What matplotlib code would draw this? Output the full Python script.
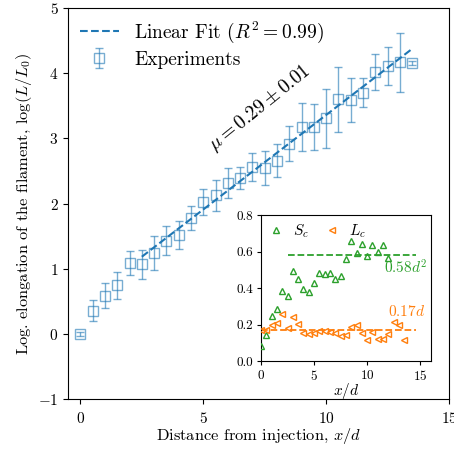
import numpy as np
import matplotlib
matplotlib.use("Agg")
import matplotlib.pyplot as plt

plt.rcParams['font.family'] = ['cmr10', 'DejaVu Serif']
plt.rcParams['mathtext.fontset'] = 'cm'
plt.rcParams['axes.formatter.use_mathtext'] = True
plt.rcParams['axes.unicode_minus'] = True

# main data
x_exp = [0.0, 0.5, 1.0, 1.5, 2.0, 2.5, 3.0, 3.5, 4.0, 4.5, 5.0, 5.5, 6.0, 6.5,
         7.0, 7.5, 8.0, 8.5, 9.0, 9.5, 10.0, 10.5, 11.0, 11.5, 12.0, 12.5, 13.0, 13.5]
y_exp = [0.0, 0.36, 0.59, 0.745, 1.09, 1.07, 1.24, 1.43, 1.52, 1.78, 2.02, 2.13, 2.32, 2.39,
         2.56, 2.54, 2.66, 2.92, 3.17, 3.18, 3.31, 3.60, 3.59, 3.70, 4.02, 4.11, 4.17, 4.16]
err_exp = [0.03, 0.16, 0.19, 0.21, 0.19, 0.22, 0.26, 0.22, 0.22, 0.19, 0.20, 0.24, 0.23, 0.17,
           0.22, 0.26, 0.25, 0.27, 0.37, 0.35, 0.45, 0.50, 0.34, 0.22, 0.28, 0.29, 0.45, 0.03]
fit_slope = 0.29
fit_intercept = 0.46
fit_x = [2.5, 13.5]

# inset data
x_sc = [0.0, 0.5, 1.0, 1.5, 2.0, 2.5, 3.0, 3.5, 4.0, 4.5, 5.0, 5.5, 6.0, 6.5,
        7.0, 7.5, 8.0, 8.5, 9.0, 9.5, 10.0, 10.5, 11.0, 11.5, 12.0]
s_c = [0.082, 0.143, 0.245, 0.286, 0.386, 0.357, 0.496, 0.447, 0.397, 0.377, 0.429, 0.485,
       0.476, 0.482, 0.447, 0.467, 0.56, 0.657, 0.592, 0.641, 0.577, 0.636, 0.595, 0.636, 0.566]
x_lc = x_exp
l_c = [0.17, 0.17, 0.20, 0.21, 0.26, 0.18, 0.24, 0.205, 0.155, 0.147, 0.155, 0.165, 0.163, 0.16,
       0.155, 0.135, 0.145, 0.187, 0.196, 0.154, 0.117, 0.159, 0.123, 0.123, 0.15, 0.214, 0.20, 0.117]
sc_mean = 0.58
lc_mean = 0.17

blue = '#1f77b4'
green = '#2ca02c'
orange = '#ff7f0e'

fig = plt.figure(figsize=(4.54, 4.49), dpi=100)
ax = fig.add_axes([0.150, 0.111, 0.839, 0.871])

fx = np.array(fit_x)
ax.plot(fx, fit_slope * fx + fit_intercept, '--', color=blue, lw=1.5,
        label=r'Linear Fit ($R^2 = 0.99$)', zorder=3)
ax.errorbar(x_exp, y_exp, yerr=err_exp, fmt='s', mfc='none', mec=blue, ms=7, mew=1.0,
            ecolor=blue, elinewidth=1.0, capsize=3, alpha=0.6, label='Experiments', zorder=2)
ax.text(7.3, 3.47, r'$\mu = 0.29 \pm 0.01$', rotation=39, fontsize=14,
        ha='center', va='center')
ax.set_xlim(-0.5, 15)
ax.set_ylim(-1, 5)
ax.set_xticks([0, 5, 10, 15])
ax.set_yticks([-1, 0, 1, 2, 3, 4, 5])
ax.tick_params(labelsize=11)
ax.tick_params(axis='x', pad=5)
ax.set_xlabel(r'Distance from injection, $x/d$', fontsize=11.8, labelpad=0)
ax.set_ylabel(r'Log. elongation of the filament, $\log(L/L_0)$', fontsize=11.8, labelpad=3)
ax.legend(loc='upper left', frameon=False, fontsize=14, handlelength=2.0,
          borderaxespad=0.2, labelspacing=0.3)

# inset
axi = fig.add_axes([0.575, 0.196, 0.374, 0.325])
axi.plot(x_sc, s_c, '^', mfc='none', mec=green, ms=5, mew=1.0, label=r'$S_c$', zorder=3)
axi.plot(x_lc, l_c, '<', mfc='none', mec=orange, ms=5, mew=1.0, label=r'$L_c$', zorder=3)
axi.plot([2.5, 14.6], [sc_mean, sc_mean], '--', color=green, lw=1.3)
axi.plot([0, 14.6], [lc_mean, lc_mean], '--', color=orange, lw=1.3)
axi.text(13.6, 0.51, r'$0.58d^2$', color=green, fontsize=11, ha='center', va='center')
axi.text(13.7, 0.27, r'$0.17d$', color=orange, fontsize=11, ha='center', va='center')
axi.set_xlim(0, 16)
axi.set_ylim(0, 0.8)
axi.set_xticks([0, 5, 10, 15])
axi.set_yticks([0.0, 0.2, 0.4, 0.6, 0.8])
axi.yaxis.set_major_formatter(matplotlib.ticker.FormatStrFormatter('%.1f'))
axi.tick_params(labelsize=9.5, length=3, pad=2.5)
axi.set_xlabel(r'$x/d$', fontsize=11, labelpad=-1)
axi.legend(loc='upper left', ncol=2, frameon=False, fontsize=11, handlelength=1.0,
           handletextpad=0.6, columnspacing=1.0, borderaxespad=0.1)

fig.savefig('out.png', dpi=100)
